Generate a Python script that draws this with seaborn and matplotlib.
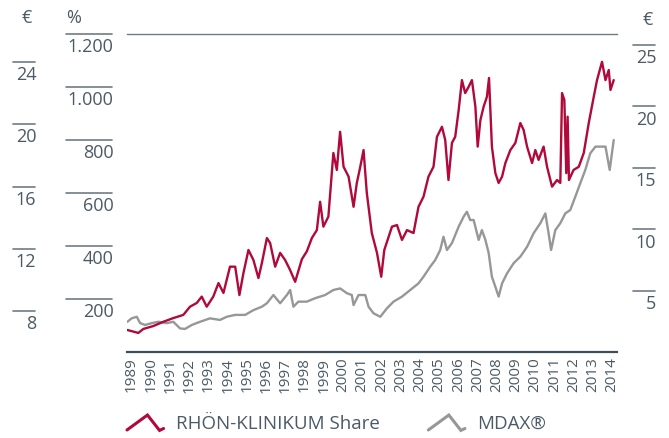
import matplotlib
matplotlib.use("Agg")
import matplotlib.pyplot as plt
from matplotlib.legend_handler import HandlerBase
from matplotlib.lines import Line2D
import seaborn as sns
import pandas as pd

# RHÖN-KLINIKUM share, indexed in %
rhoen_year = [1989.02, 1989.33, 1989.59, 1989.85, 1990.37, 1990.89, 1991.41, 1991.93,
              1992.28, 1992.63, 1992.89, 1993.15, 1993.49, 1993.76, 1994.02, 1994.36,
              1994.63, 1994.85, 1995.06, 1995.32, 1995.58, 1995.84, 1996.02, 1996.28,
              1996.45, 1996.71, 1996.97, 1997.23, 1997.49, 1997.75, 1998.10, 1998.36,
              1998.62, 1998.88, 1999.05, 1999.22, 1999.48, 1999.74, 1999.92, 2000.09,
              2000.27, 2000.53, 2000.79, 2000.96, 2001.14, 2001.31, 2001.48, 2001.74,
              2002.01, 2002.23, 2002.39, 2002.79, 2003.05, 2003.31, 2003.57, 2003.91,
              2004.17, 2004.43, 2004.69, 2004.95, 2005.13, 2005.39, 2005.56, 2005.73,
              2005.91, 2006.08, 2006.26, 2006.43, 2006.60, 2006.78, 2006.95, 2007.13,
              2007.25, 2007.39, 2007.56, 2007.73, 2007.84, 2007.99, 2008.17, 2008.34,
              2008.52, 2008.69, 2008.95, 2009.21, 2009.47, 2009.64, 2009.82, 2010.08,
              2010.25, 2010.42, 2010.68, 2010.86, 2011.12, 2011.38, 2011.55, 2011.64,
              2011.76, 2011.86, 2011.93, 2012.00, 2012.24, 2012.51, 2012.77, 2013.03,
              2013.29, 2013.46, 2013.72, 2013.90, 2014.07, 2014.16, 2014.33]
rhoen_pct = [83, 77, 72, 87, 98, 114, 128, 140,
             171, 185, 209, 171, 209, 260, 223, 322,
             322, 215, 298, 385, 347, 279, 336, 430,
             411, 322, 374, 347, 309, 265, 350, 380,
             430, 460, 567, 473, 511, 751, 687, 831,
             699, 662, 548, 638, 699, 762, 600, 449,
             374, 284, 385, 473, 479, 423, 460, 449,
             548, 586, 662, 699, 812, 850, 800, 649,
             789, 812, 913, 1026, 977, 1001, 1026, 926,
             775, 875, 926, 963, 1034, 775, 675, 638,
             662, 713, 762, 789, 864, 838, 775, 713,
             762, 725, 775, 699, 624, 649, 638, 977,
             951, 675, 888, 649, 687, 699, 751, 864,
             963, 1026, 1095, 1026, 1064, 989, 1026]

# MDAX, indexed in %
mdax_year = [1989.02, 1989.24, 1989.51, 1989.68, 1989.94, 1990.29, 1990.63, 1991.07,
             1991.41, 1991.76, 1992.02, 1992.37, 1992.80, 1993.32, 1993.84, 1994.19,
             1994.63, 1995.15, 1995.58, 1996.02, 1996.28, 1996.62, 1996.97, 1997.32,
             1997.49, 1997.66, 1997.92, 1998.36, 1998.79, 1999.31, 1999.74, 2000.09,
             2000.44, 2000.70, 2000.79, 2001.05, 2001.40, 2001.57, 2001.83, 2002.18,
             2002.53, 2002.87, 2003.31, 2003.74, 2004.17, 2004.43, 2004.78, 2005.04,
             2005.30, 2005.47, 2005.65, 2005.91, 2006.26, 2006.52, 2006.69, 2006.86,
             2007.04, 2007.30, 2007.47, 2007.65, 2007.82, 2007.99, 2008.17, 2008.34,
             2008.52, 2008.78, 2009.12, 2009.47, 2009.82, 2010.16, 2010.51, 2010.77,
             2010.94, 2011.07, 2011.29, 2011.55, 2011.81, 2012.07, 2012.33, 2012.59,
             2012.85, 2013.11, 2013.38, 2013.64, 2013.90, 2014.12, 2014.33]
mdax_pct = [114, 127, 133, 109, 102, 109, 114, 109,
            114, 89, 87, 102, 114, 127, 121, 133,
            140, 140, 158, 171, 184, 215, 184, 215,
            234, 171, 190, 190, 203, 215, 234, 240,
            222, 215, 177, 215, 215, 171, 146, 133,
            165, 190, 209, 234, 259, 284, 322, 347,
            385, 435, 385, 411, 473, 511, 529, 498,
            498, 423, 460, 423, 374, 284, 246, 209,
            259, 297, 335, 360, 397, 448, 486, 523,
            448, 385, 460, 486, 523, 536, 586, 637,
            687, 750, 775, 775, 775, 687, 800]

year_labels = list(range(1989, 2015))
pct_ticks = [200, 400, 600, 800, 1000, 1200]
eur_left_ticks = [8, 12, 16, 20, 24]
eur_right_ticks = [5, 10, 15, 20, 25]

RED = "#b0093a"
GREY = "#979797"
TEXT = "#4b5a66"
RULE = "#6f7c86"

sns.set_style("white")
plt.rcParams['font.family'] = ['Open Sans', 'DejaVu Sans']

W, H = 669, 438
fig = plt.figure(figsize=(6.69, 4.38), dpi=100)
ax_box = [127 / W, 1 - 352 / H, 490 / W, 318 / H]
ax = fig.add_axes(ax_box)

df = pd.concat([
    pd.DataFrame({"year": rhoen_year, "pct": rhoen_pct, "series": "RHÖN-KLINIKUM Share"}),
    pd.DataFrame({"year": mdax_year, "pct": mdax_pct, "series": "MDAX®"}),
])
sns.lineplot(data=df, x="year", y="pct", hue="series",
             palette={"RHÖN-KLINIKUM Share": RED, "MDAX®": GREY},
             hue_order=["MDAX®", "RHÖN-KLINIKUM Share"],
             lw=1.7, ax=ax, legend=False, estimator=None, sort=False)

ax.set_xlim(1989, 2014.5)
ax.set_ylim(0, 1200)
ax.set_xlabel("")
ax.set_ylabel("")
ax.set_yticks([])
ax.set_xticks([y + 0.24 for y in year_labels])
ax.set_xticklabels([str(y) for y in year_labels], rotation=90, color=TEXT, fontsize=11)
ax.tick_params(axis="x", length=0, pad=4)
for s in ["left", "right"]:
    ax.spines[s].set_visible(False)
ax.spines["bottom"].set_color("#3e4e5a")
ax.spines["bottom"].set_linewidth(1.6)
ax.spines["top"].set_color(RULE)
ax.spines["top"].set_linewidth(1.0)


def side_scale(x0, x1, lo, hi, ticks, fmt):
    sax = fig.add_axes([x0 / W, ax_box[1], (x1 - x0) / W, ax_box[3]])
    sax.set_xlim(0, 1)
    sax.set_ylim(lo, hi)
    sax.axis("off")
    for t in ticks:
        sax.plot([0, 1], [t, t], color=RULE, lw=1.2, clip_on=False)
        sax.annotate(fmt(t), xy=(1, t), xytext=(1, -3), textcoords="offset points",
                     ha="right", va="top", color=TEXT, fontsize=13)
    return sax


side_scale(13, 35, 5.365, 25.8, eur_left_ticks, str)
side_scale(66, 112, 0, 1200, pct_ticks, lambda t: f"{t:,}".replace(",", "."))
side_scale(633, 655, 0.04, 25.89, eur_right_ticks, str)

fig.text(27 / W, 1 - 18 / H, "€", ha="center", va="center", color=TEXT, fontsize=13)
fig.text(66 / W, 1 - 18 / H, "%", ha="left", va="center", color=TEXT, fontsize=13)
fig.text(648 / W, 1 - 20 / H, "€", ha="center", va="center", color=TEXT, fontsize=13)


class ZigzagHandler(HandlerBase):
    def create_artists(self, legend, orig_handle, xdescent, ydescent,
                       width, height, fontsize, trans):
        xs = [0, 0.56, 0.89, 1.0]
        ys = [0.0, 1.0, -0.03, 0.1]
        line = Line2D([-xdescent + x * width for x in xs],
                      [-ydescent + y * height for y in ys],
                      color=orig_handle.get_color(), lw=2.2,
                      solid_joinstyle="miter")
        line.set_transform(trans)
        return [line]


handles = [Line2D([], [], color=RED), Line2D([], [], color=GREY)]
leg = fig.legend(handles, ["RHÖN-KLINIKUM Share", "MDAX®"],
                 handler_map={Line2D: ZigzagHandler()},
                 loc="center left", bbox_to_anchor=(127 / W, 1 - 424 / H),
                 ncol=2, frameon=False, fontsize=13.5, borderpad=0, borderaxespad=0,
                 handlelength=1.95, handleheight=0.85, handletextpad=0.65,
                 columnspacing=2.6)
for t in leg.get_texts():
    t.set_color(TEXT)

fig.savefig("out.png", dpi=100)
